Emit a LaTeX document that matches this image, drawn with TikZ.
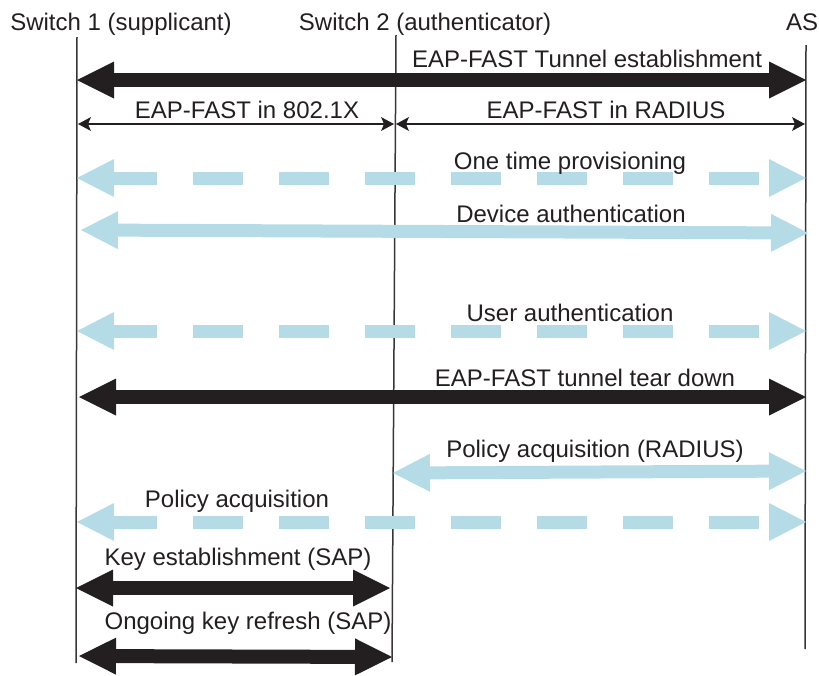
\documentclass[tikz,border=0pt]{standalone}
\usepackage{fontspec}
\setmainfont{Liberation Sans}
\usepackage{tikz}
\usetikzlibrary{arrows.meta}

\definecolor{inkblack}{HTML}{231F20}
\definecolor{msgblue}{HTML}{B5DCE6}

\tikzset{
	lifeline/.style={draw=inkblack!90, line width=0.75pt},
	fatmsg/.style={inkblack, line width=7pt,
		{Triangle[length=18.5pt,width=18.5pt,line width=0pt]}-{Triangle[length=18.5pt,width=18.5pt,line width=0pt]}},
	thinmsg/.style={inkblack, line width=1pt,
		{Stealth[length=6.5pt,width=7pt,inset=1.5pt,line width=0pt]}-{Stealth[length=6.5pt,width=7pt,inset=1.5pt,line width=0pt]}},
	bluemsg/.style={msgblue, line width=6.5pt,
		{Triangle[length=18.5pt,width=19pt,line width=0pt]}-{Triangle[length=18.5pt,width=19pt,line width=0pt]}},
	bluedash/.style={bluemsg, dash pattern=on 25pt off 18pt, dash phase=3.5pt},
	msglabel/.style={inner sep=0pt, anchor=base, text=inkblack, font=\fontsize{12}{14}\selectfont}
}

\begin{document}
\begin{tikzpicture}[x=0.5pt,y=-0.5pt]
	\useasboundingbox (0,0) rectangle (819,675);
	
	% Lifelines
	\coordinate (s1top) at (77,37);
	\coordinate (s1bot) at (76,663);
	\coordinate (s2top) at (396,35);
	\coordinate (s2bot) at (392,662);
	\coordinate (astop) at (806,45);
	\coordinate (asbot) at (805,649);
	\draw[lifeline] (s1top) -- (s1bot);
	\draw[lifeline] (s2top) -- (s2bot);
	\draw[lifeline] (astop) -- (asbot);
	
	% Headers
	\node[msglabel] (switch1) at (121,30) {Switch 1 (supplicant)};
	\node[msglabel] (switch2) at (425,30) {Switch 2 (authenticator)};
	\node[msglabel] (as) at (802,30) {AS};
	
	% Tunnel establishment
	\coordinate (tunL) at (77,80);
	\coordinate (tunR) at (806,80);
	\draw[fatmsg] (tunL) -- (tunR);
	\node[msglabel] (tunlabel) at (587,67) {EAP-FAST Tunnel establishment};
	
	% Encapsulation
	\coordinate (dotL) at (78,124);
	\coordinate (dotR) at (394,124);
	\coordinate (radL) at (396,124);
	\coordinate (radR) at (805,124);
	\draw[thinmsg] (dotL) -- (dotR);
	\draw[thinmsg] (radL) -- (radR);
	\node[msglabel] (dotlabel) at (247,118) {EAP-FAST in 802.1X};
	\node[msglabel] (radlabel) at (606,118) {EAP-FAST in RADIUS};
	
	% Provisioning and authentication
	\coordinate (provL) at (77,178);
	\coordinate (provR) at (806,178);
	\draw[bluedash] (provL) -- (provR);
	\node[msglabel] (provlabel) at (570,169) {One time provisioning};
	
	\coordinate (devL) at (81,230);
	\coordinate (devR) at (808,233);
	\draw[bluemsg] (devL) -- (devR);
	\node[msglabel] (devlabel) at (571,222) {Device authentication};
	
	\coordinate (userL) at (77,331);
	\coordinate (userR) at (806,331);
	\draw[bluedash] (userL) -- (userR);
	\node[msglabel] (userlabel) at (570,321) {User authentication};
	
	% Tear down
	\coordinate (downL) at (79,397);
	\coordinate (downR) at (806,397);
	\draw[fatmsg] (downL) -- (downR);
	\node[msglabel] (downlabel) at (585,386) {EAP-FAST tunnel tear down};
	
	% Policy
	\coordinate (polradL) at (393,473);
	\coordinate (polradR) at (806,471);
	\draw[bluemsg] (polradL) -- (polradR);
	\node[msglabel] (polradlabel) at (595,457) {Policy acquisition (RADIUS)};
	
	\coordinate (polL) at (77,522);
	\coordinate (polR) at (806,522);
	\draw[bluedash] (polL) -- (polR);
	\node[msglabel] (pollabel) at (237,507) {Policy acquisition};
	
	% SAP
	\coordinate (keyL) at (76,588);
	\coordinate (keyR) at (390,588);
	\draw[fatmsg] (keyL) -- (keyR);
	\node[msglabel] (keylabel) at (238,565) {Key establishment (SAP)};
	
	\coordinate (refL) at (79,656);
	\coordinate (refR) at (392,657);
	\draw[fatmsg] (refL) -- (refR);
	\node[msglabel] (reflabel) at (248,629) {Ongoing key refresh (SAP)};
	
\end{tikzpicture}
\end{document}
